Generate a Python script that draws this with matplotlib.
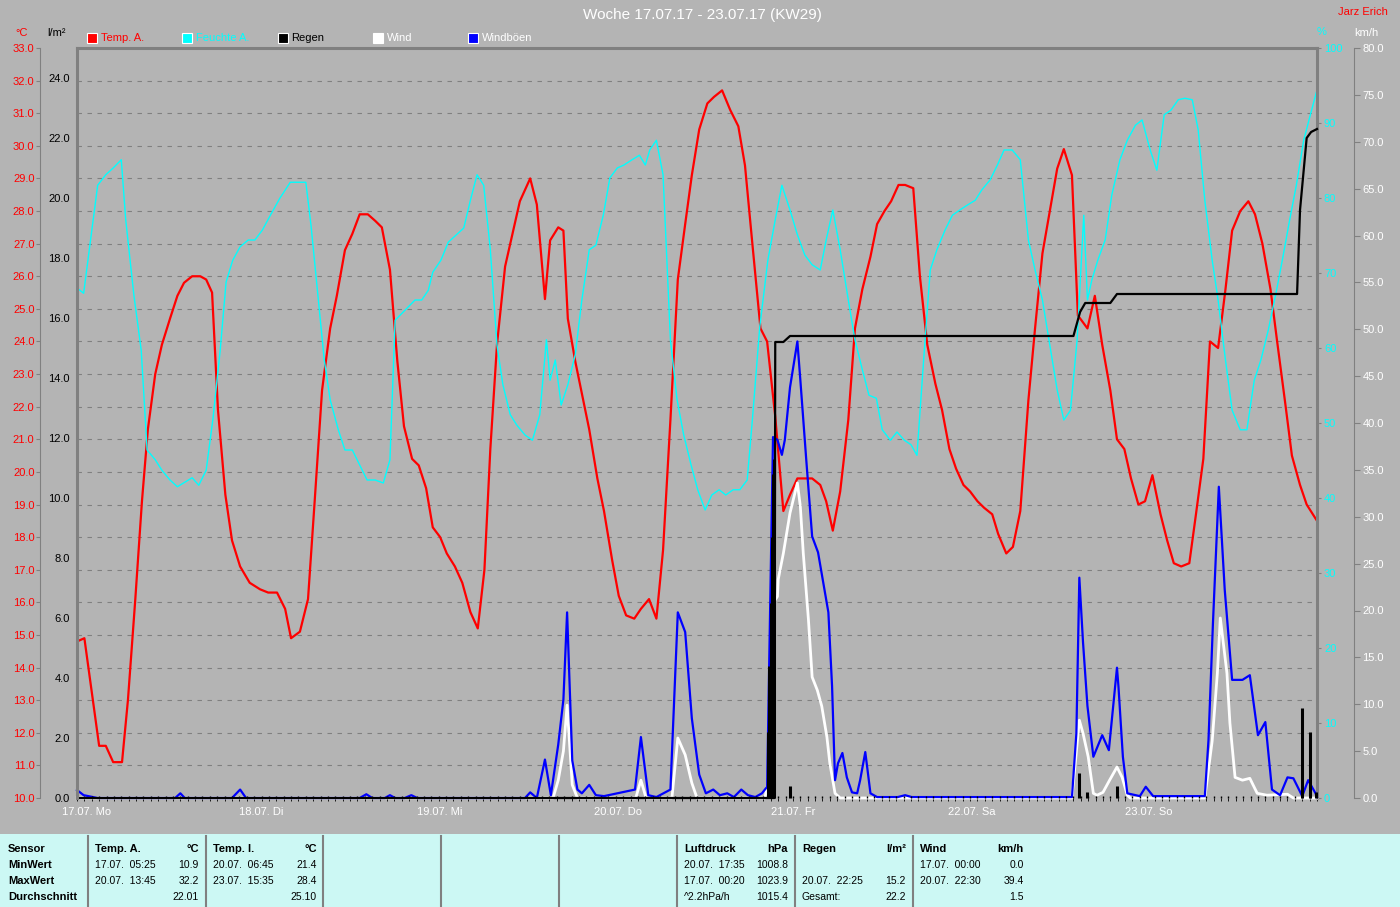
import matplotlib

matplotlib.use("Agg")

import matplotlib.pyplot as plt
from matplotlib.lines import Line2D
from matplotlib.patches import Rectangle
from matplotlib.ticker import FormatStrFormatter

plt.rcParams["font.family"] = ["Liberation Sans", "DejaVu Sans"]

# ---- data (time in hours since 17.07. 00:00) ----
temp_h = [0, 1.0, 3.0, 3.9, 4.9, 6.1, 6.9, 7.9, 8.8, 9.6, 10.6, 11.5, 12.6, 13.6, 14.5, 15.6,
          16.7, 17.5, 18.3, 19.1, 20.1, 21.0, 22.1, 23.4, 24.8, 25.9, 27.1, 28.2, 29.0, 30.2,
          31.3, 32.2, 33.2, 34.3, 35.2, 36.3, 37.3, 38.3, 39.4, 40.4, 41.3, 42.4, 43.4, 44.3,
          45.4, 46.3, 47.3, 48.2, 49.2, 50.1, 51.2, 52.2, 53.3, 54.3, 55.2, 56.0, 56.9, 58.0,
          59.1, 60.0, 61.4, 62.3, 63.4, 64.1, 65.2, 65.9, 66.5, 67.5, 68.4, 69.4, 70.5, 71.4,
          72.5, 73.4, 74.4, 75.5, 76.4, 77.5, 78.5, 79.4, 80.4, 81.4, 82.4, 83.3, 84.3, 85.4,
          86.3, 87.4, 88.5, 89.6, 90.5, 91.5, 92.6, 93.5, 94.6, 95.7, 96.6, 97.6, 98.6, 99.6,
          100.7, 101.5, 102.4, 103.4, 104.5, 105.4, 106.4, 107.5, 108.4, 109.4, 110.3, 111.3,
          112.2, 113.3, 114.2, 115.2, 116.3, 117.2, 118.2, 119.1, 120.1, 121.0, 122.0, 122.9,
          124.0, 124.8, 125.9, 126.8, 127.8, 128.9, 129.8, 130.8, 131.8, 132.8, 133.7, 134.8,
          135.6, 136.9, 137.9, 138.9, 140.0, 140.9, 141.9, 142.8, 143.8, 144.7, 145.7, 146.8,
          147.7, 148.6, 149.6, 150.7, 151.6, 152.6, 153.5, 154.6, 155.6, 156.5, 157.6, 158.7,
          159.6, 160.6, 161.7, 162.6, 163.7, 164.6, 165.7, 166.6, 168.0]
temp_c = [14.8, 14.9, 11.6, 11.6, 11.1, 11.1, 13.0, 16.1, 19.1, 21.3, 23.0, 23.9, 24.7, 25.4,
          25.8, 26.0, 26.0, 25.9, 25.5, 21.9, 19.3, 17.9, 17.1, 16.6, 16.4, 16.3, 16.3, 15.8,
          14.9, 15.1, 16.1, 19.1, 22.5, 24.4, 25.4, 26.8, 27.3, 27.9, 27.9, 27.7, 27.5, 26.2,
          23.4, 21.4, 20.4, 20.2, 19.5, 18.3, 18.0, 17.5, 17.1, 16.6, 15.7, 15.2, 17.0, 20.7,
          23.9, 26.3, 27.4, 28.3, 29.0, 28.2, 25.3, 27.1, 27.5, 27.4, 24.7, 23.4, 22.4, 21.3,
          19.8, 18.8, 17.3, 16.2, 15.6, 15.5, 15.8, 16.1, 15.5, 17.6, 21.6, 25.9, 27.6, 29.1,
          30.5, 31.3, 31.5, 31.7, 31.1, 30.6, 29.4, 27.0, 24.4, 24.0, 21.7, 18.8, 19.3, 19.8,
          19.8, 19.8, 19.6, 19.1, 18.2, 19.4, 21.6, 24.4, 25.6, 26.6, 27.6, 28.0, 28.3, 28.8,
          28.8, 28.7, 26.0, 23.9, 22.7, 21.9, 20.7, 20.1, 19.6, 19.4, 19.1, 18.9, 18.7, 18.1,
          17.5, 17.7, 18.8, 22.2, 24.4, 26.7, 28.0, 29.3, 29.9, 29.1, 24.8, 24.4, 25.4, 23.9,
          22.5, 21.0, 20.7, 19.8, 19.0, 19.1, 19.9, 18.7, 17.9, 17.2, 17.1, 17.2, 18.7, 20.4,
          24.0, 23.8, 25.6, 27.4, 28.0, 28.3, 27.9, 27.0, 25.6, 24.0, 22.1, 20.5, 19.6, 19.0,
          18.5]

hum_h = [0, 0.9, 2.0, 2.8, 3.9, 4.9, 6.0, 6.6, 7.7, 8.7, 9.5, 10.6, 11.5, 12.6, 13.6, 14.6,
         15.6, 16.5, 17.5, 18.4, 19.4, 20.2, 21.1, 22.1, 23.2, 24.1, 25.1, 26.2, 27.5, 28.9,
         30.2, 31.0, 31.7, 32.7, 33.5, 34.3, 35.4, 36.3, 37.3, 38.3, 39.3, 40.4, 41.5, 42.4,
         43.1, 43.8, 44.7, 45.8, 46.7, 47.6, 48.2, 49.3, 50.3, 51.4, 52.4, 53.3, 54.2, 55.1,
         56.0, 56.9, 57.7, 58.7, 59.6, 60.7, 61.7, 62.7, 63.6, 64.1, 64.8, 65.6, 66.5, 67.5,
         68.4, 69.4, 70.3, 71.3, 72.2, 73.2, 74.1, 75.2, 76.2, 77.0, 77.6, 78.5, 79.4, 80.4,
         81.3, 82.2, 83.2, 84.1, 85.1, 86.0, 87.0, 87.9, 88.9, 89.8, 90.8, 91.5, 92.5, 93.6,
         94.6, 95.5, 96.6, 97.6, 98.6, 99.6, 100.7, 101.5, 102.4, 103.4, 104.5, 105.4, 106.4,
         107.3, 108.3, 109.1, 110.2, 111.1, 112.1, 113.0, 113.8, 114.8, 115.6, 116.5, 117.6,
         118.6, 119.6, 120.7, 121.7, 122.6, 123.7, 124.7, 125.6, 126.7, 127.8, 128.9, 129.8,
         130.8, 131.8, 132.8, 133.7, 134.6, 135.5, 136.4, 136.9, 137.5, 138.3, 139.3, 140.2,
         141.3, 142.3, 143.4, 144.3, 145.4, 146.3, 147.3, 148.2, 149.2, 150.1, 151.1, 151.9,
         152.8, 153.8, 154.6, 155.6, 156.5, 157.6, 158.5, 159.5, 160.4, 161.4, 162.4, 163.3,
         164.3, 165.2, 166.2, 167.1, 168.0]
hum_v = [68.0, 67.3, 75.7, 81.7, 83.1, 84.0, 85.1, 77.1, 67.1, 59.7, 46.4, 45.1, 43.7, 42.4,
         41.5, 42.1, 42.7, 41.7, 43.7, 50.4, 59.7, 68.8, 71.7, 73.5, 74.4, 74.4, 75.7, 77.7,
         80.0, 82.1, 82.1, 82.1, 76.4, 66.4, 58.4, 53.1, 49.1, 46.4, 46.4, 44.4, 42.4, 42.4,
         42.0, 45.1, 63.7, 64.4, 65.3, 66.4, 66.4, 67.7, 70.1, 71.7, 74.1, 75.1, 76.0, 79.7,
         83.1, 81.7, 73.1, 60.4, 55.1, 51.1, 49.7, 48.4, 47.7, 51.1, 61.1, 55.7, 58.4, 52.4,
         55.1, 59.1, 66.4, 73.1, 73.7, 77.7, 82.7, 84.0, 84.4, 85.1, 85.7, 84.4, 86.4, 87.7,
         83.1, 61.1, 53.1, 48.4, 44.4, 41.1, 38.4, 40.4, 41.1, 40.4, 41.1, 41.1, 42.4, 50.4,
         62.8, 71.7, 77.1, 81.7, 78.4, 75.1, 72.4, 71.1, 70.4, 74.4, 78.4, 73.1, 66.4, 61.1,
         57.1, 53.7, 53.3, 49.1, 47.7, 48.8, 47.7, 47.1, 45.7, 59.7, 70.4, 73.1, 75.7, 77.7,
         78.4, 79.1, 79.7, 81.1, 82.4, 84.4, 86.4, 86.4, 85.1, 74.4, 70.4, 66.4, 60.4, 54.4,
         50.4, 51.7, 61.1, 77.7, 66.4, 69.1, 71.7, 74.4, 80.4, 85.1, 87.7, 89.7, 90.4, 86.4,
         83.7, 91.1, 91.7, 93.1, 93.3, 93.1, 89.1, 79.7, 71.7, 66.4, 58.4, 51.7, 49.1, 49.1,
         55.7, 58.4, 62.4, 67.1, 71.7, 77.1, 81.7, 87.7, 91.1, 94.4]

rain_cum_h = [0, 94.5, 94.6, 95.7, 96.6, 135.0, 135.9, 136.6, 140.0, 140.9, 165.3, 165.7,
              166.6, 167.2, 168.0]
rain_cum_v = [0, 0, 15.2, 15.2, 15.4, 15.4, 16.2, 16.5, 16.5, 16.8, 16.8, 19.6, 22.0, 22.2, 22.3]
rain_bar_h = [93.6, 93.8, 94.0, 94.2, 94.3, 94.4, 96.6, 135.8, 136.9, 140.9, 165.9, 167.1, 167.9]
rain_bar_v = [2.2, 4.4, 6.5, 8.7, 10.8, 11.3, 0.4, 0.83, 0.2, 0.4, 3.0, 2.2, 0.2]

gust_h = [0, 0.9, 2.8, 13.3, 14.0, 14.6, 21.0, 22.1, 22.9, 38.3, 39.2, 40.0, 41.7, 42.4, 43.1,
          44.4, 45.3, 46.1, 60.7, 61.4, 62.3, 63.4, 64.2, 65.2, 65.9, 66.4, 67.1, 67.8, 68.4,
          69.4, 70.3, 71.4, 75.6, 76.4, 77.4, 78.5, 80.4, 81.4, 82.4, 83.3, 84.3, 85.2, 86.2,
          87.1, 88.1, 89.0, 90.0, 90.9, 91.9, 92.8, 93.5, 94.3, 94.9, 95.5, 95.9, 96.6, 97.6,
          98.0, 98.8, 99.6, 100.4, 101.1, 101.8, 102.3, 102.7, 103.1, 103.7, 104.3, 105.0,
          105.7, 106.1, 106.8, 107.5, 108.4, 111.2, 112.2, 113.1, 134.8, 135.4, 135.8, 136.3,
          136.9, 137.7, 138.9, 139.8, 140.9, 141.1, 141.7, 142.3, 144.0, 144.8, 145.8, 152.8,
          153.3, 153.9, 154.7, 155.5, 156.5, 157.9, 158.9, 160.0, 161.0, 161.9, 163.0, 164.0,
          164.8, 166.0, 166.8, 167.8, 168.0]
gust_v = [0.85, 0.3, 0, 0, 0.5, 0, 0, 0.9, 0, 0, 0.4, 0, 0, 0.3, 0, 0, 0.3, 0, 0, 0.6, 0, 4.1,
          0.3, 5.7, 10.5, 19.8, 4.0, 0.9, 0.5, 1.4, 0.3, 0.2, 0.9, 6.5, 0.3, 0.1, 0.9, 19.8,
          17.7, 8.5, 2.5, 0.5, 0.9, 0.3, 0.5, 0.1, 0.9, 0.3, 0.1, 0.5, 1.2, 38.5, 38.2, 36.6,
          38.2, 43.8, 48.7, 44.6, 36.1, 27.9, 26.2, 23.0, 19.8, 11.9, 1.9, 3.7, 4.8, 2.2, 0.6,
          0.5, 1.9, 4.9, 0.5, 0.1, 0.1, 0.3, 0.1, 0.1, 6.9, 23.5, 16.6, 9.8, 4.4, 6.7, 5.1,
          13.9, 11.9, 4.4, 0.5, 0.2, 1.2, 0.2, 0.2, 6.2, 18.6, 33.2, 22.2, 12.6, 12.6, 13.1,
          6.7, 8.1, 0.9, 0.3, 2.2, 2.1, 0.2, 1.9, 0.5, 0.1]

wind_h = [0, 64.5, 65.2, 65.9, 66.4, 67.1, 67.8, 75.7, 76.4, 77.1, 80.6, 81.4, 82.4, 83.3,
          84.0, 93.2, 93.6, 93.9, 94.3, 94.9, 95.0, 95.7, 96.6, 97.6, 98.0, 98.4, 99.1, 99.6,
          100.3, 100.9, 101.6, 102.0, 102.7, 103.4, 134.8, 135.8, 136.3, 137.0, 137.7, 138.2,
          139.0, 139.9, 140.9, 141.6, 142.3, 142.7, 152.8, 153.8, 154.5, 154.9, 155.8, 156.2,
          156.9, 157.9, 158.9, 159.9, 161.2, 164.0, 164.8, 168.0]
wind_v = [0, 0, 1.9, 5.0, 9.9, 1.4, 0, 0, 1.9, 0, 0, 6.4, 4.6, 1.6, 0, 0, 1.6, 6.9, 20.8, 21.5,
          23.3, 26.1, 30.4, 33.6, 31.1, 26.1, 19.0, 12.9, 11.5, 9.8, 6.5, 3.7, 0.5, 0, 0, 8.3,
          6.9, 4.4, 0.5, 0.3, 0.6, 1.9, 3.3, 2.2, 0.3, 0, 0, 6.1, 13.3, 19.2, 13.3, 8.0, 2.2,
          1.9, 2.1, 0.5, 0.3, 0.4, 0, 0]

day_labels = ["17.07. Mo", "18.07. Di", "19.07. Mi", "20.07. Do", "21.07. Fr", "22.07. Sa",
              "23.07. So"]
legend_names = ["Temp. A.", "Feuchte A.", "Regen", "Wind", "Windböen"]

row_names = ["Sensor", "MinWert", "MaxWert", "Durchschnitt"]
sensor_heads = [("Temp. A.", "°C"), ("Temp. I.", "°C"), ("Luftdruck", "hPa"),
                ("Regen", "l/m²"), ("Wind", "km/h")]
sensor_dates = [["17.07.  05:25", "20.07.  13:45", ""],
                ["20.07.  06:45", "23.07.  15:35", ""],
                ["20.07.  17:35", "17.07.  00:20", "^2.2hPa/h"],
                ["", "20.07.  22:25", "Gesamt:"],
                ["17.07.  00:00", "20.07.  22:30", ""]]
sensor_values = [["10.9", "32.2", "22.01"],
                 ["21.4", "28.4", "25.10"],
                 ["1008.8", "1023.9", "1015.4"],
                 ["", "15.2", "22.2"],
                 ["0.0", "39.4", "1.5"]]

# ---- layout helpers (pixel -> figure fraction) ----
W, H = 1400, 907
BG = "#b4b4b4"
FRAME = "#808080"
TABLE_BG = "#ccf8f4"
OUTER = 37 * 72 / 100  # 37 px offset of the outer axes, in points


def fx(x):
    return x / W


def fy(y):
    return 1 - y / H


fig = plt.figure(figsize=(14, 9.07), dpi=100, facecolor=BG)

# table strip at the bottom
fig.patches.append(Rectangle((0, 0), 1, fy(834), transform=fig.transFigure,
                             facecolor=TABLE_BG, edgecolor="none", zorder=0))
for sx in [88, 206, 323, 441, 559, 677, 795, 913]:
    fig.add_artist(Line2D([fx(sx), fx(sx)], [fy(836), 0], color=FRAME, lw=1.5))

ax = fig.add_axes([fx(77), fy(798), fx(1317) - fx(77), fy(48) - fy(798)])
ax.set_facecolor(BG)
ax_h = ax.twinx()
ax_w = ax.twinx()
ax_r = ax.twinx()

# temperature axis (left, outer)
ax.set_xlim(0, 168)
ax.set_ylim(10, 33)
ax.set_yticks(range(10, 34))
ax.yaxis.set_major_formatter(FormatStrFormatter("%.1f"))
ax.tick_params(axis="y", colors=FRAME, labelcolor="red", labelsize=8, length=3, pad=1)
ax.set_xticks(range(24, 168, 24))
ax.tick_params(axis="x", length=0, labelbottom=False)
ax.grid(True, color=FRAME, linestyle=(0, (4, 5)), lw=0.8)
for name, sp in ax.spines.items():
    sp.set_visible(name == "left")
ax.spines["left"].set_position(("outward", OUTER))
ax.spines["left"].set_color(FRAME)
ax.plot(temp_h, temp_c, color="red", lw=1.6)

# humidity axis (right, at frame)
ax_h.set_ylim(0, 100)
ax_h.set_yticks(range(0, 101, 10))
ax_h.tick_params(axis="y", colors=FRAME, labelcolor="cyan", labelsize=8, length=3, pad=2)
for name, sp in ax_h.spines.items():
    sp.set_visible(name == "right")
ax_h.spines["right"].set_color(FRAME)
ax_h.spines["right"].set_linewidth(2.2)
ax_h.plot(hum_h, hum_v, color="cyan", lw=1.0)

# wind axis (right, outer)
ax_w.set_ylim(0, 80)
ax_w.set_yticks(range(0, 81, 5))
ax_w.yaxis.set_major_formatter(FormatStrFormatter("%.1f"))
ax_w.tick_params(axis="y", colors=FRAME, labelcolor="white", labelsize=8, length=4, pad=2)
for name, sp in ax_w.spines.items():
    sp.set_visible(name == "right")
ax_w.spines["right"].set_position(("outward", OUTER))
ax_w.spines["right"].set_color(FRAME)
ax_w.plot(wind_h, wind_v, color="white", lw=2.0, clip_on=False)
ax_w.plot(gust_h, gust_v, color="blue", lw=1.6, clip_on=False)

# rain axis (left, at frame)
ax_r.yaxis.tick_left()
ax_r.set_ylim(0, 25)
ax_r.set_yticks(range(0, 25, 2))
ax_r.yaxis.set_major_formatter(FormatStrFormatter("%.1f"))
ax_r.tick_params(axis="y", labelcolor="black", labelsize=8, length=0, pad=5)
for name, sp in ax_r.spines.items():
    sp.set_visible(name in ("left", "top"))
    sp.set_color(FRAME)
    sp.set_linewidth(2.2)
ax_r.xaxis.set_visible(True)
ax_r.set_xticks([])
ax_r.set_xticks(range(0, 169), minor=True)
ax_r.tick_params(axis="x", which="minor", direction="in", length=1.2, width=1.0, color="black")
ax_r.vlines(rain_bar_h, 0, rain_bar_v, colors="black", lw=2.2, clip_on=False)
ax_r.plot(rain_cum_h, rain_cum_v, color="black", lw=1.6, clip_on=False)

# day labels under the plot
for i, lab in enumerate(day_labels):
    ax.text(i * 24 - 2, -0.019, lab, transform=ax.get_xaxis_transform(),
            color="white", fontsize=8, ha="left", va="center")

# titles and unit labels
fig.text(fx(702), fy(15), "Woche 17.07.17 - 23.07.17 (KW29)", color="white",
         fontsize=11, ha="center", va="center")
fig.text(fx(1388), fy(12), "Jarz Erich", color="red", fontsize=8, ha="right", va="center")
fig.text(fx(22), fy(33), "°C", color="red", fontsize=8, ha="center", va="center")
fig.text(fx(57), fy(33), "l/m²", color="black", fontsize=8, ha="center", va="center")
fig.text(fx(1322), fy(32), "%", color="cyan", fontsize=8, ha="center", va="center")
fig.text(fx(1366), fy(33), "km/h", color="white", fontsize=8, ha="center", va="center")

# legend squares
leg_fill = ["red", "cyan", "black", "white", "blue"]
leg_text = ["red", "cyan", "black", "white", "white"]
for i, name in enumerate(legend_names):
    x0 = 87 + i * 95.3
    fig.patches.append(Rectangle((fx(x0), fy(43)), 10 / W, 10 / H, transform=fig.transFigure,
                                 facecolor=leg_fill[i], edgecolor="white", lw=0.8))
    fig.text(fx(x0 + 14), fy(38), name, color=leg_text[i], fontsize=8, ha="left", va="center")

# statistics table
row_y = [849, 865, 881, 897]
for name, y in zip(row_names, row_y):
    fig.text(fx(8), fy(y), name, fontsize=8, fontweight="bold", ha="left", va="center")
col_x = [88, 206, 677, 795, 913]
for cx, (head, unit), dates, vals in zip(col_x, sensor_heads, sensor_dates, sensor_values):
    fig.text(fx(cx + 7), fy(row_y[0]), head, fontsize=8, fontweight="bold", ha="left",
             va="center")
    fig.text(fx(cx + 111), fy(row_y[0]), unit, fontsize=8, fontweight="bold", ha="right",
             va="center")
    for d, v, y in zip(dates, vals, row_y[1:]):
        fig.text(fx(cx + 7), fy(y), d, fontsize=7.5, ha="left", va="center")
        fig.text(fx(cx + 111), fy(y), v, fontsize=7.5, ha="right", va="center")

fig.savefig("out.png", dpi=100, facecolor=BG)
